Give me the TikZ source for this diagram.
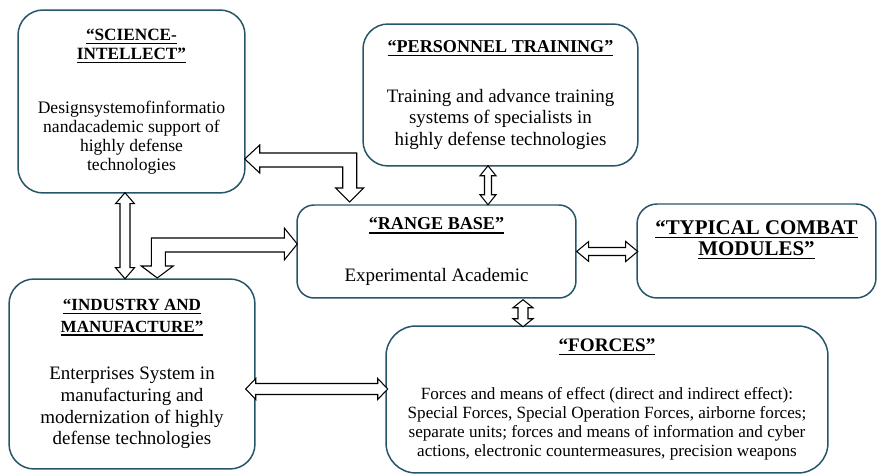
\documentclass[tikz,border=0pt]{standalone}
\usepackage{fontspec}
\setmainfont{Liberation Serif}
\usetikzlibrary{calc}
\definecolor{boxc}{RGB}{38,84,104}

\newsavebox{\ttlbox}
\newcommand\ttl[2][10.3]{\sbox\ttlbox{\fontsize{#1}{12}\selectfont\bfseries #2}\rlap{\rule[-2.2pt]{\wd\ttlbox}{0.8pt}}\usebox\ttlbox}
% straight block arrows: start tip, length, shaft half, head half, head length
\newcommand\harr[5]{\draw[barrow] (#1) -- ++(#5,-#4) -- ++(0,#4-#3) -- ++(#2-2*#5,0) -- ++(0,#3-#4) -- ++(#5,#4) -- ++(-#5,#4) -- ++(0,#3-#4) -- ++(2*#5-#2,0) -- ++(0,#4-#3) -- cycle;}
\newcommand\varr[5]{\draw[barrow] (#1) -- ++(-#4,#5) -- ++(#4-#3,0) -- ++(0,#2-2*#5) -- ++(#3-#4,0) -- ++(#4,#5) -- ++(#4,-#5) -- ++(#3-#4,0) -- ++(0,2*#5-#2) -- ++(#4-#3,0) -- cycle;}

\tikzset{
  blk/.style={draw=boxc, line width=0.85pt, align=center, inner sep=0pt,
    font=\fontsize{10.8}{12.3}\selectfont},
  barrow/.style={draw=black, fill=white, line width=0.6pt, line join=miter},
}

\begin{document}
\begin{tikzpicture}[x=0.02cm,y=-0.02cm]
\useasboundingbox (0,0) rectangle (877,475);

% boxes
\node[blk, rounded corners=0.5cm, minimum width=4.54cm, minimum height=3.66cm,
  font=\fontsize{10}{10.8}\selectfont] (sci) at (131.5,101.5)
  {\ttl[9.8]{“SCIENCE-}\\\ttl[9.8]{INTELLECT”}\\[20pt]Designsystemofinformatio\\nandacademic support of\\highly defense\\technologies};
\node[blk, rounded corners=0.5cm, minimum width=5.5cm, minimum height=2.84cm] (pers) at (500.5,95)
  {\ttl{“PERSONNEL TRAINING”}\\[16pt]Training and advance training\\systems of specialists in\\highly defense technologies};
\node[blk, rounded corners=0.34cm, minimum width=5.58cm, minimum height=1.86cm] (range) at (436.5,251.5)
  {\ttl{“RANGE BASE”}\\[17pt]Experimental Academic};
\node[blk, rounded corners=0.4cm, minimum width=4.78cm, minimum height=1.88cm,
  font=\fontsize{11.9}{12}\selectfont] (typ) at (756.5,251)
  {\ttl[11.9]{“TYPICAL COMBAT}\\\ttl[11.9]{MODULES”}\\[3pt]\mbox{}};
\node[blk, rounded corners=0.5cm, minimum width=4.92cm, minimum height=3.8cm] (ind) at (132,374)
  {\ttl[9.7]{“INDUSTRY AND}\\\ttl[9.7]{MANUFACTURE”}\\[15pt]Enterprises System in\\manufacturing and\\modernization of highly\\defense technologies};
\node[blk, rounded corners=0.6cm, minimum width=8.84cm, minimum height=2.94cm,
  font=\fontsize{9.75}{10.9}\selectfont] (forc) at (607,399.5)
  {\ttl[10.9]{“FORCES”}\\[16.5pt]Forces and means of effect (direct and indirect effect):\\Special Forces, Special Operation Forces, airborne forces;\\separate units; forces and means of information and cyber\\actions, electronic countermeasures, precision weapons};

% block arrows
\harr{range.east}{61}{4}{10}{12}
\harr{$(ind.east)+(-10,15)$}{142}{5.5}{10.5}{10}
\varr{$(pers.south)+(-12.5,-1)$}{39}{3.5}{8}{10}
\varr{$(range.south)+(86.5,1)$}{27}{5}{10}{8}
\varr{$(sci.south)+(-6.5,-1)$}{86}{5}{9.5}{11}
% elbows
\draw[barrow] ($(sci.east)+(-1,57.5)$) -- ++(15,-14) -- ++(0,8) -- ++(97,0) -- ++(0,35) -- ++(7,0)
  -- ++(-14,14) -- ++(-14,-14) -- ++(7,0) -- ++(0,-21) -- ++(-83,0) -- ++(0,6) -- cycle;
\draw[barrow] ($(range.west)+(1,-7.5)$) -- ++(-13,-16) -- ++(0,10) -- ++(-133,0) -- ++(0,28) -- ++(-10,0)
  -- ++(16,12) -- ++(16,-12) -- ++(-8,0) -- ++(0,-14) -- ++(119,0) -- ++(0,8) -- cycle;
\end{tikzpicture}
\end{document}
